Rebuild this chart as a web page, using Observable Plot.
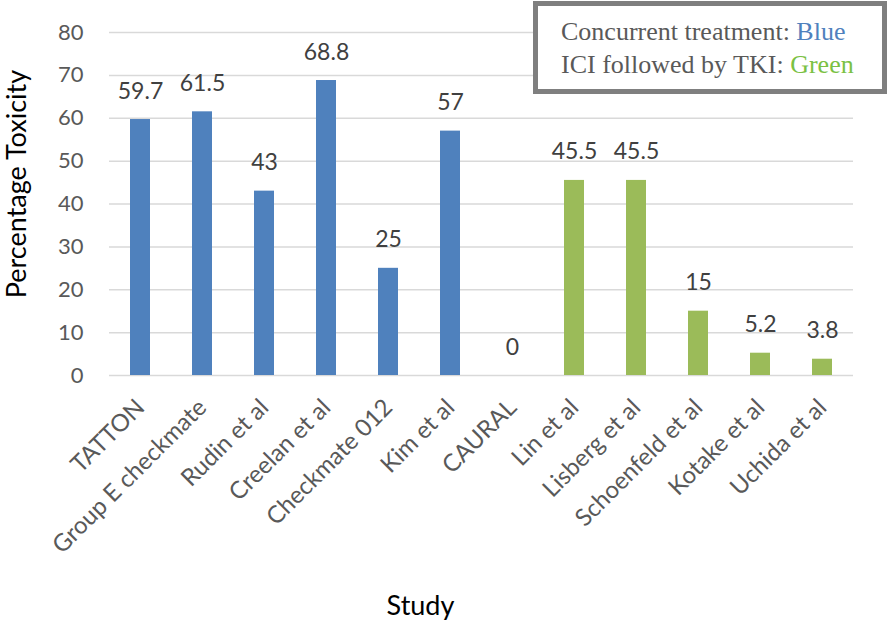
<!DOCTYPE html>
<html>
<head>
<meta charset="utf-8">
<script src="https://cdn.jsdelivr.net/npm/d3@7"></script>
<script src="https://cdn.jsdelivr.net/npm/@observablehq/plot@0.6"></script>
<style>
  html, body { margin: 0; padding: 0; background: #fff; }
  #wrap { position: relative; width: 888px; height: 625px; }
  #legend {
    position: absolute; left: 533px; top: 1px; width: 344px; height: 83px;
    border: 5px solid #7f7f7f; background: #fff;
    font-family: "Liberation Serif", "DejaVu Serif", serif; font-size: 26px; color: #595959;
    line-height: 33px; box-sizing: content-box;
  }
  #legend div { padding-left: 23px; white-space: nowrap; }
</style>
</head>
<body>
<div id="wrap"></div>
<script>
const studies = ["TATTON", "Group E checkmate", "Rudin et al", "Creelan et al", "Checkmate 012", "Kim et al", "CAURAL", "Lin et al", "Lisberg et al", "Schoenfeld et al", "Kotake et al", "Uchida et al"];
const values = [59.7, 61.5, 43, 68.8, 25, 57, 0, 45.5, 45.5, 15, 5.2, 3.8];
const groups = ["Concurrent", "Concurrent", "Concurrent", "Concurrent", "Concurrent", "Concurrent", "Concurrent", "Sequential", "Sequential", "Sequential", "Sequential", "Sequential"];
const yTicks = [0, 10, 20, 30, 40, 50, 60, 70, 80];
const groupColors = {Concurrent: "#4f81bd", Sequential: "#9bbb59"};

const data = studies.map((s, i) => ({study: s, value: values[i], group: groups[i]}));

const chart = Plot.plot({
  width: 888,
  height: 625,
  marginLeft: 109,
  marginRight: 35,
  marginTop: 32,
  marginBottom: 250,
  style: {fontFamily: "Lato, 'Open Sans', sans-serif", background: "#fff"},
  x: {domain: studies, paddingInner: 0.677, paddingOuter: 0.3385, label: null},
  y: {domain: [0, 80], label: null},
  marks: [
    Plot.gridY(yTicks, {stroke: "#d9d9d9", strokeOpacity: 1, strokeWidth: 1.5}),
    Plot.barY(data, {x: "study", y: "value", fill: d => groupColors[d.group]}),
    Plot.text(data, {x: "study", y: "value", text: d => String(d.value), lineAnchor: "bottom", dy: -21, fontSize: 23, fill: "#404040"}),
    Plot.axisY({ticks: yTicks, tickSize: 0, tickPadding: 26, fontSize: 22, color: "#595959", label: null}),
    Plot.axisX({tickRotate: -45, tickSize: 0, tickPadding: 28, fontSize: 24, color: "#595959", label: null}),
    Plot.text(["Percentage Toxicity"], {frameAnchor: "left", textAnchor: "middle", lineAnchor: "middle", rotate: -90, dx: -92, dy: -20, fontSize: 27, fill: "#000"}),
    Plot.text(["Study"], {frameAnchor: "bottom", lineAnchor: "middle", dx: -61, dy: 231, fontSize: 27, fill: "#000"})
  ]
});

const wrap = document.getElementById("wrap");
wrap.appendChild(chart);
const legend = document.createElement("div");
legend.id = "legend";
legend.innerHTML = '<div style="margin-top:9px">Concurrent treatment: <span style="color:#4f81bd">Blue</span></div>' +
  '<div>ICI followed by TKI: <span style="color:#7ac143">Green</span></div>';
wrap.appendChild(legend);
</script>
</body>
</html>
